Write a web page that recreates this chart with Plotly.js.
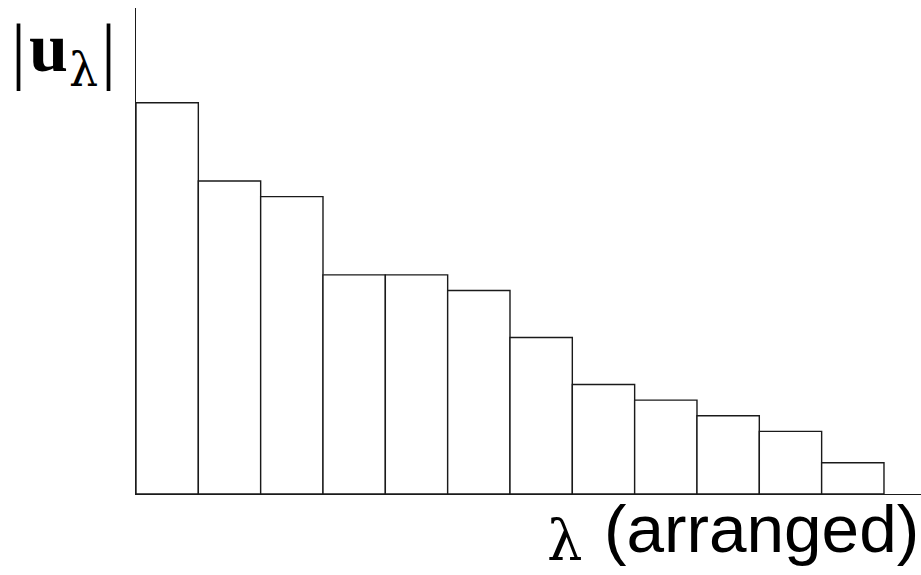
<!DOCTYPE html>
<html>
<head>
<meta charset="utf-8">
<script src="https://cdn.plot.ly/plotly-3.0.1.min.js"></script>
<style>html,body{margin:0;padding:0;background:#fff;}</style>
</head>
<body>
<div id="chart" style="width:921px;height:575px;"></div>
<script>
const categories = [0,1,2,3,4,5,6,7,8,9,10,11];
const magnitudes = [25,20,19,14,14,13,10,7,6,5,4,2];
const yLabelBar = '|';
const yLabelVector = '<b>u</b>';
const yLabelSub = 'λ';
const xLabelSymbol = 'λ';
const xLabelText = '(arranged)';

const trace = {
  type: 'bar',
  x: categories,
  y: magnitudes,
  width: 1,
  marker: {color: '#ffffff', line: {color: '#1a1a1a', width: 1.4}},
  hoverinfo: 'none'
};

const serif = 'Liberation Serif, Times New Roman, serif';
const greek = 'DejaVu Serif, serif';
const sans = 'Liberation Sans, Arial, sans-serif';

function ann(text, x, y, xanchor, family, size) {
  return {xref: 'paper', yref: 'paper', x: x, y: y, xanchor: xanchor, yanchor: 'middle',
          borderpad: 0, borderwidth: 0,
          text: text, showarrow: false, font: {family: family, size: size, color: '#000'}};
}

const layout = {
  width: 921, height: 575,
  margin: {l: 136, r: 0, t: 8, b: 81, pad: 0},
  paper_bgcolor: '#fff', plot_bgcolor: '#fff',
  showlegend: false,
  bargap: 0,
  xaxis: {range: [-0.5, 12.094], showline: true, linecolor: '#1a1a1a', linewidth: 1.4,
          showgrid: false, zeroline: false, showticklabels: false, ticks: '', fixedrange: true},
  yaxis: {range: [0, 31.05], showline: true, linecolor: '#1a1a1a', linewidth: 1.4,
          showgrid: false, zeroline: false, showticklabels: false, ticks: '', fixedrange: true},
  annotations: [
    ann(yLabelBar, -0.1497, 0.914, 'center', serif, 75),
    ann(yLabelVector, -0.1115, 0.9191, 'center', serif, 70),
    ann(yLabelSub, -0.0669, 0.8715, 'center', greek, 46),
    ann(yLabelBar, -0.0350, 0.914, 'center', serif, 75),
    ann(xLabelSymbol, 0.5465, -0.0953, 'center', greek, 56),
    ann(xLabelText, 0.9975, -0.070, 'right', sans, 67.5)
  ]
};

Plotly.newPlot('chart', [trace], layout, {displayModeBar: false, staticPlot: true});
</script>
</body>
</html>
